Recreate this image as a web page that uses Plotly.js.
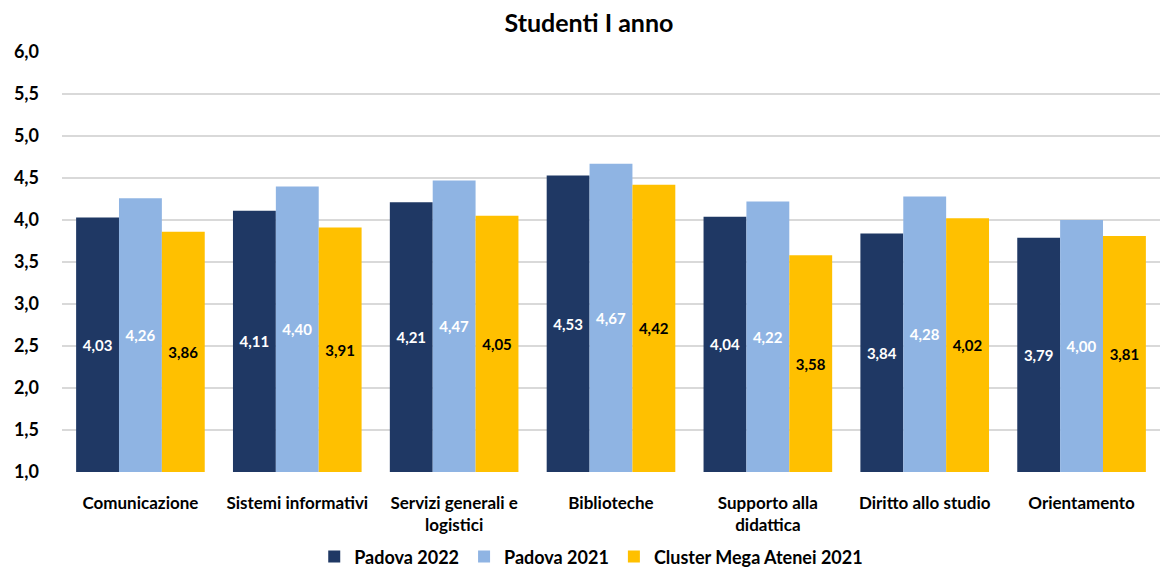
<!DOCTYPE html>
<html>
<head>
<meta charset="utf-8">
<script src="https://cdn.plot.ly/plotly-3.0.1.min.js"></script>
<style>html,body{margin:0;padding:0;background:#fff;}#chart{width:1161px;height:570px;}</style>
</head>
<body>
<div id="chart"></div>
<script>
const categories = ["Comunicazione", "Sistemi informativi", "Servizi generali e<br>logistici", "Biblioteche", "Supporto alla<br>didattica", "Diritto allo studio", "Orientamento"];
const padova2022 = [4.03, 4.11, 4.21, 4.53, 4.04, 3.84, 3.79];
const padova2021 = [4.26, 4.40, 4.47, 4.67, 4.22, 4.28, 4.00];
const cluster2021 = [3.86, 3.91, 4.05, 4.42, 3.58, 4.02, 3.81];
const seriesNames = ["Padova 2022", "Padova 2021", "Cluster Mega Atenei 2021"];
const seriesColors = ["#1F3864", "#8FB4E3", "#FFC000"];
const labelColors = ["#FFFFFF", "#FFFFFF", "#000000"];
const yTicks = [1.0, 1.5, 2.0, 2.5, 3.0, 3.5, 4.0, 4.5, 5.0, 5.5, 6.0];
const axisBase = 1.0;

const FONT = "Lato, 'Open Sans', sans-serif";
const allSeries = [padova2022, padova2021, cluster2021];
const traces = allSeries.map((vals, i) => ({
  type: "bar",
  name: seriesNames[i],
  x: categories,
  y: vals.map(v => v - axisBase),
  base: axisBase,
  text: vals.map(v => v.toFixed(2).replace(".", ",")),
  textposition: "inside",
  insidetextanchor: "middle",
  textangle: 0,
  constraintext: "none",
  textfont: {family: FONT, size: 15, color: labelColors[i], weight: "bold"},
  marker: {color: seriesColors[i]},
  hoverinfo: "skip"
}));

const layout = {
  width: 1161, height: 570,
  margin: {l: 62, r: 1, t: 52, b: 98, autoexpand: false},
  paper_bgcolor: "#fff", plot_bgcolor: "#fff",
  separators: ", ",
  font: {family: FONT, color: "#000"},
  title: {text: "<b>Studenti I anno</b>", x: 0.5073, xref: "container", xanchor: "center",
          yref: "container", y: 0.96, yanchor: "middle",
          font: {family: FONT, size: 25, color: "#000"}},
  barmode: "group",
  bargap: 0.18,
  bargroupgap: 0,
  showlegend: true,
  legend: {orientation: "h", x: 0.482, xanchor: "center", yref: "container", y: 0.023, yanchor: "middle",
           font: {family: FONT, size: 18, color: "#000", weight: "bold"},
           itemwidth: 30, traceorder: "normal"},
  xaxis: {type: "category", showgrid: false, zeroline: false, showline: false,
          ticks: "", ticklabelstandoff: 19, automargin: false,
          tickfont: {family: FONT, size: 17, color: "#000", weight: "bold"}},
  yaxis: {range: [1, 6], tickvals: yTicks, tickformat: ".1f", showgrid: true,
          gridcolor: "#D9D9D9", gridwidth: 1.2, zeroline: false, showline: false, ticks: "",
          ticklabelstandoff: 22, automargin: false,
          tickfont: {family: FONT, size: 18, color: "#000", weight: "bold"}}
};

Plotly.newPlot("chart", traces, layout, {displayModeBar: false, staticPlot: true});
</script>
</body>
</html>
